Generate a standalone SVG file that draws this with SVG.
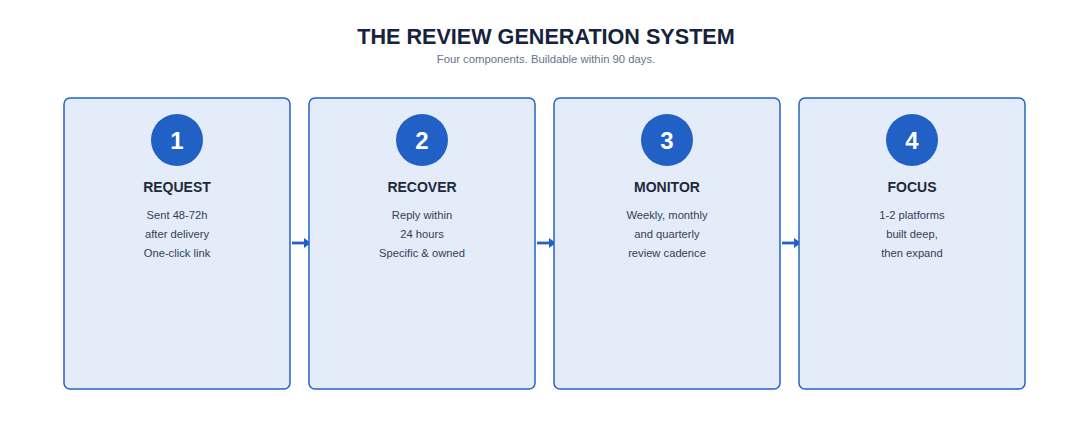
<svg xmlns="http://www.w3.org/2000/svg" width="1092" height="430" viewBox="0 0 1092 430">
<style>
.title{font-family:"Liberation Sans",Arial,sans-serif;font-size:21.6px;font-weight:bold;fill:#15233d;text-anchor:middle}
.sub{font-family:"Liberation Sans",Arial,sans-serif;font-size:11.3px;fill:#64748b;text-anchor:middle}
.box{fill:#e4ecf9;stroke:#2563c4;stroke-width:1.5}
.circ{fill:#2160c4}
.num{font-family:"Liberation Sans",Arial,sans-serif;font-size:24px;font-weight:bold;fill:#ffffff;text-anchor:middle}
.head{font-family:"Liberation Sans",Arial,sans-serif;font-size:14px;font-weight:bold;fill:#1e293b;text-anchor:middle}
.body{font-family:"Liberation Sans",Arial,sans-serif;font-size:11.2px;fill:#334155;text-anchor:middle}
.conn{stroke:#2160c4;stroke-width:2.8;fill:none}
</style>
<defs>
<marker id="ah" markerWidth="7" markerHeight="10" refX="7" refY="5" orient="auto" markerUnits="userSpaceOnUse">
<path d="M0,0 L7,5 L0,10 Z" fill="#2160c4"/>
</marker>
</defs>
<rect width="1092" height="430" fill="#ffffff"/>
<text class="title" x="546" y="44">THE REVIEW GENERATION SYSTEM</text>
<text class="sub" x="546" y="63">Four components. Buildable within 90 days.</text>
<g id="connectors">
<line class="conn" x1="292" y1="243" x2="311" y2="243" marker-end="url(#ah)"/>
<line class="conn" x1="537" y1="243" x2="556" y2="243" marker-end="url(#ah)"/>
<line class="conn" x1="782" y1="243" x2="801" y2="243" marker-end="url(#ah)"/>
</g>
<g id="node1">
<rect class="box" x="64" y="98" width="226" height="291" rx="6"/>
<circle class="circ" cx="177" cy="140" r="26"/>
<text class="num" x="177" y="148.5">1</text>
<text class="head" x="177" y="192">REQUEST</text>
<text class="body" x="177" y="219">Sent 48-72h</text>
<text class="body" x="177" y="238">after delivery</text>
<text class="body" x="177" y="257">One-click link</text>
</g>
<g id="node2">
<rect class="box" x="309" y="98" width="226" height="291" rx="6"/>
<circle class="circ" cx="422" cy="140" r="26"/>
<text class="num" x="422" y="148.5">2</text>
<text class="head" x="422" y="192">RECOVER</text>
<text class="body" x="422" y="219">Reply within</text>
<text class="body" x="422" y="238">24 hours</text>
<text class="body" x="422" y="257">Specific &amp; owned</text>
</g>
<g id="node3">
<rect class="box" x="554" y="98" width="226" height="291" rx="6"/>
<circle class="circ" cx="667" cy="140" r="26"/>
<text class="num" x="667" y="148.5">3</text>
<text class="head" x="667" y="192">MONITOR</text>
<text class="body" x="667" y="219">Weekly, monthly</text>
<text class="body" x="667" y="238">and quarterly</text>
<text class="body" x="667" y="257">review cadence</text>
</g>
<g id="node4">
<rect class="box" x="799" y="98" width="226" height="291" rx="6"/>
<circle class="circ" cx="912" cy="140" r="26"/>
<text class="num" x="912" y="148.5">4</text>
<text class="head" x="912" y="192">FOCUS</text>
<text class="body" x="912" y="219">1-2 platforms</text>
<text class="body" x="912" y="238">built deep,</text>
<text class="body" x="912" y="257">then expand</text>
</g>
</svg>
